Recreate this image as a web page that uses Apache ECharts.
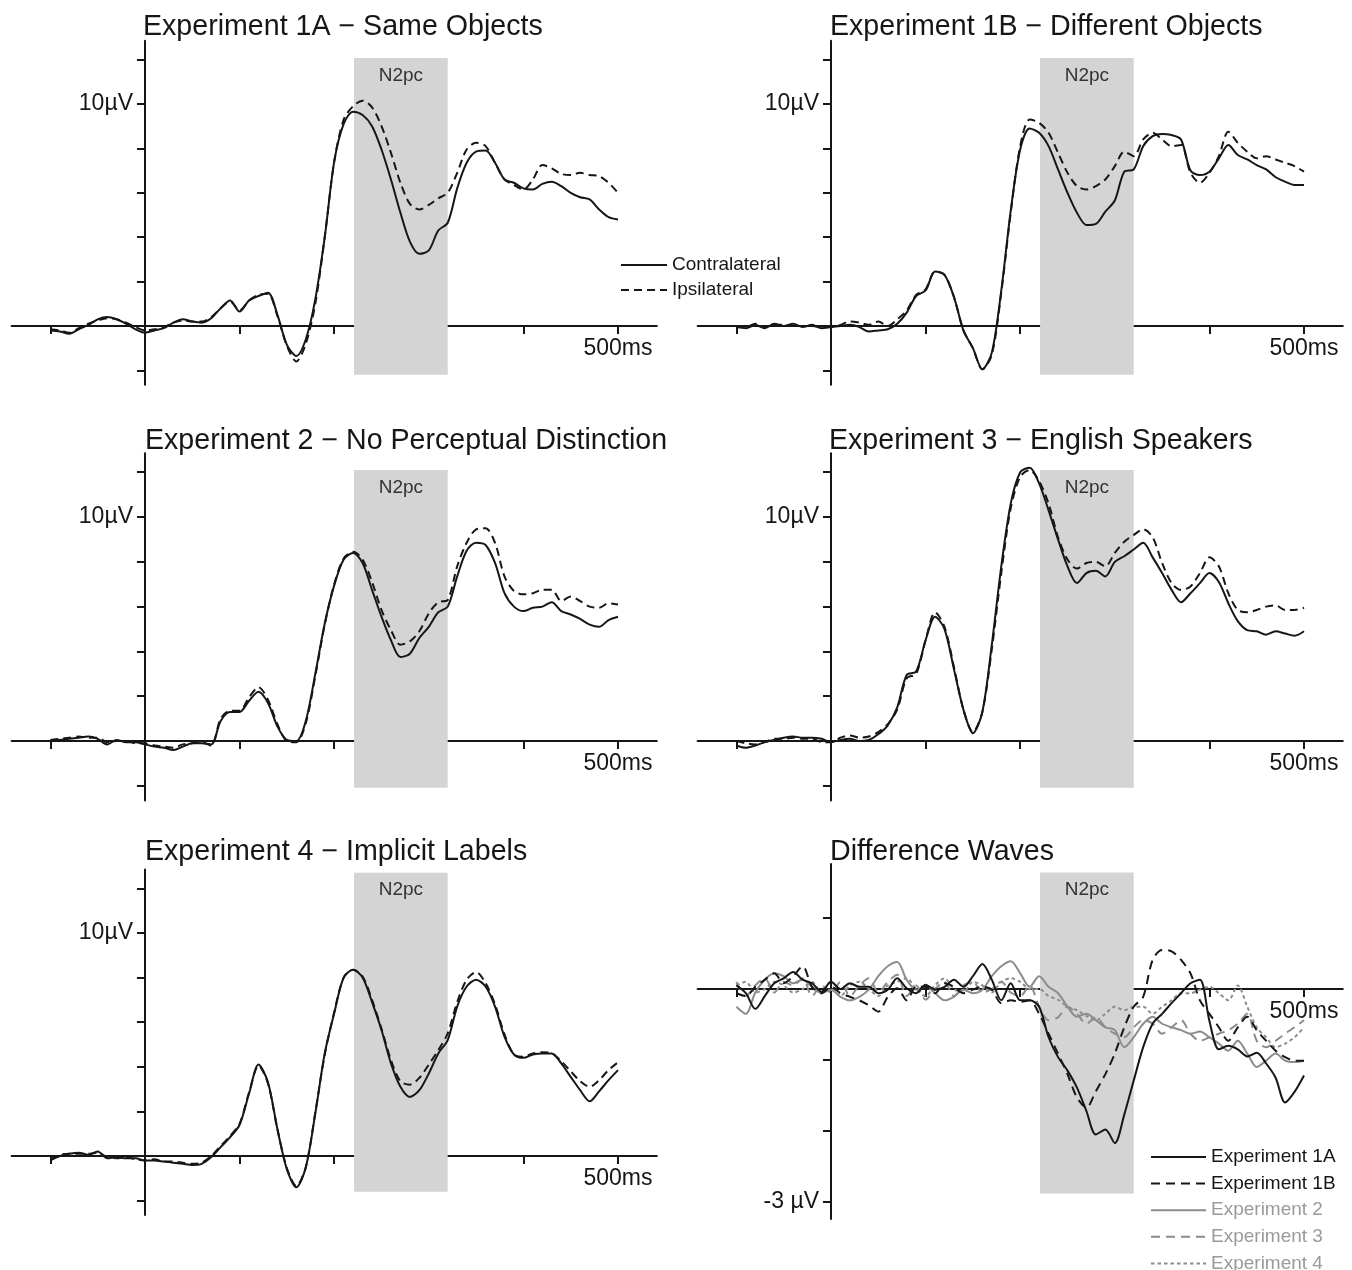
<!DOCTYPE html>
<html>
<head>
<meta charset="utf-8">
<script src="https://cdn.jsdelivr.net/npm/echarts@6/dist/echarts.min.js"></script>
<style>
html,body{margin:0;padding:0;background:#fff;}
#chart{width:1352px;height:1270px;}
</style>
</head>
<body>
<div id="chart"></div>
<script>
// ---------- DATA ----------
var times = [-100,-90,-80,-70,-60,-50,-40,-30,-20,-10,0,10,20,30,40,50,60,70,80,90,100,110,120,130,140,150,160,170,180,190,200,210,220,230,240,250,260,270,280,290,300,310,320,330,340,350,360,370,380,390,400,410,420,430,440,450,460,470,480,490,500];

var exp1aContra = [-0.2,-0.25,-0.35,-0.15,0.05,0.3,0.4,0.3,0.1,-0.15,-0.3,-0.2,-0.1,0.15,0.3,0.2,0.15,0.35,0.8,1.15,0.65,1.15,1.35,1.5,0.5,-0.85,-1.35,-0.6,1.2,4.0,7.4,9.1,9.65,9.5,9.0,7.95,6.6,5.1,3.8,3.25,3.4,4.3,4.65,6.2,7.35,7.85,7.9,7.35,6.6,6.45,6.2,6.15,6.4,6.5,6.3,6.0,5.8,5.7,5.25,4.9,4.8];
var exp1aIpsi = [-0.15,-0.2,-0.3,-0.1,0.1,0.25,0.35,0.3,0.15,-0.05,-0.2,-0.15,-0.05,0.15,0.25,0.2,0.2,0.4,0.8,1.1,0.7,1.15,1.4,1.45,0.45,-0.9,-1.6,-0.8,1.0,4.0,7.4,9.3,9.9,10.15,9.85,9.0,7.8,6.45,5.5,5.25,5.45,5.75,6.0,6.9,7.95,8.25,8.1,7.35,6.6,6.35,6.15,6.6,7.25,7.1,6.85,6.8,6.9,6.8,6.75,6.45,6.0];

var exp1bContra = [-0.05,-0.1,0.05,-0.1,0.1,0.0,0.1,-0.05,0.05,-0.1,-0.05,0.0,0.05,-0.05,-0.25,-0.2,-0.15,0.1,0.6,1.35,1.6,2.45,2.3,1.3,-0.2,-1.0,-1.95,-1.2,1.6,5.2,7.95,8.9,8.7,8.1,7.05,6.0,5.1,4.55,4.6,5.15,5.65,6.95,7.05,8.1,8.55,8.65,8.6,8.4,7.0,6.8,6.95,7.55,8.15,7.7,7.5,7.25,7.05,6.7,6.5,6.35,6.35];
var exp1bIpsi = [0.0,-0.05,0.1,-0.05,0.05,0.05,0.0,0.0,0.0,-0.05,-0.05,0.05,0.2,0.15,0.05,0.2,0.0,0.3,0.7,1.4,1.65,2.45,2.3,1.3,-0.2,-1.0,-1.95,-1.3,1.5,5.1,8.1,9.3,9.15,8.7,7.8,6.9,6.3,6.15,6.3,6.6,7.2,7.85,7.65,8.4,8.7,8.4,8.1,8.15,6.9,6.45,6.9,7.65,8.75,8.25,7.85,7.55,7.65,7.5,7.35,7.2,6.95];

var exp2Contra = [0.0,0.05,0.1,0.15,0.2,0.1,-0.15,0.05,-0.05,-0.05,-0.15,-0.25,-0.3,-0.4,-0.25,-0.1,-0.1,-0.15,0.9,1.3,1.3,1.8,2.2,1.7,0.65,0.05,0.0,0.9,3.0,5.25,6.95,8.1,8.4,7.95,6.75,5.55,4.5,3.75,3.9,4.6,5.1,5.75,6.0,7.35,8.5,8.85,8.75,7.95,6.6,6.0,5.8,5.95,6.0,6.2,5.8,5.65,5.45,5.2,5.1,5.4,5.55];
var exp2Ipsi = [0.05,0.1,0.15,0.2,0.15,0.15,-0.05,0.0,0.0,-0.1,-0.1,-0.2,-0.25,-0.3,-0.15,-0.1,-0.05,-0.2,1.0,1.35,1.35,1.95,2.4,1.85,0.75,0.0,-0.05,0.8,2.9,5.2,7.0,8.15,8.45,8.1,7.1,5.85,4.95,4.3,4.45,4.9,5.7,6.2,6.3,7.8,8.85,9.45,9.5,8.85,7.35,6.7,6.55,6.6,6.75,6.75,6.25,6.45,6.25,6.0,5.95,6.15,6.1];

var exp3Contra = [-0.2,-0.3,-0.2,-0.05,0.05,0.15,0.2,0.15,0.15,0.1,-0.05,0.05,0.1,0.0,0.05,0.3,0.7,1.5,2.95,3.1,4.5,5.55,5.0,3.2,1.4,0.35,1.3,4.3,7.8,10.6,12.0,12.2,11.5,10.3,9.0,7.8,7.05,7.5,7.6,7.35,8.0,8.25,8.55,8.85,8.2,7.5,6.75,6.2,6.6,7.05,7.5,7.1,6.15,5.35,4.95,4.9,4.75,4.9,4.8,4.7,4.9];
var exp3Ipsi = [0.0,-0.1,-0.15,-0.05,0.1,0.1,0.15,0.1,0.1,-0.05,-0.05,0.15,0.25,0.15,0.2,0.4,0.75,1.4,2.8,3.0,4.5,5.75,5.1,3.3,1.4,0.4,1.3,4.1,7.5,10.4,11.8,12.1,11.6,10.6,9.1,8.1,7.7,7.95,8.0,7.8,8.4,8.9,9.2,9.45,9.1,7.95,7.05,6.75,6.9,7.5,8.2,7.8,6.6,5.85,5.75,5.85,6.0,6.05,5.85,5.85,5.95];

var exp4Contra = [-0.2,0.0,0.1,0.15,0.05,0.2,-0.1,-0.05,-0.1,-0.1,-0.2,-0.2,-0.25,-0.3,-0.35,-0.4,-0.35,-0.05,0.4,0.85,1.4,2.8,4.1,3.3,1.2,-0.6,-1.4,-0.5,1.9,4.6,6.4,8.0,8.35,8.0,6.9,5.65,4.15,3.1,2.65,2.95,3.7,4.6,5.2,6.7,7.6,7.9,7.6,6.7,5.35,4.55,4.4,4.55,4.6,4.6,4.15,3.55,2.95,2.45,2.9,3.4,3.85];
var exp4Ipsi = [-0.15,0.05,0.1,0.1,0.1,0.15,-0.05,-0.1,-0.05,-0.15,-0.2,-0.15,-0.25,-0.25,-0.3,-0.35,-0.3,0.0,0.45,0.9,1.45,2.85,4.05,3.25,1.2,-0.55,-1.35,-0.5,1.95,4.55,6.45,8.0,8.35,8.05,7.0,5.7,4.3,3.35,3.2,3.5,4.1,4.75,5.5,6.9,7.9,8.25,7.75,6.8,5.45,4.55,4.45,4.6,4.65,4.6,4.25,3.8,3.35,3.1,3.4,3.85,4.2];

var diff1A = [0.05,-0.06,-0.28,-0.1,0.08,0.15,0.24,0.13,0.08,-0.04,0.1,0.0,0.08,0.03,0.03,-0.06,-0.01,0.15,0.01,-0.06,0.06,-0.01,0.03,0.13,0.03,0.18,0.35,0.13,-0.16,0.08,-0.16,-0.16,-0.25,-0.68,-0.96,-1.15,-1.39,-1.72,-2.05,-1.98,-2.17,-1.77,-1.29,-0.82,-0.49,-0.35,-0.2,-0.06,0.08,0.13,-0.45,-0.85,-0.8,-0.85,-0.95,-0.9,-1.05,-1.25,-1.6,-1.45,-1.22];
var diff1B = [-0.06,-0.1,0.03,0.13,0.22,0.08,0.18,0.32,0.03,-0.06,0.03,-0.06,-0.11,-0.16,-0.23,-0.32,-0.11,0.01,-0.16,0.03,0.03,-0.06,0.08,0.03,-0.06,-0.01,0.03,-0.01,-0.2,-0.16,-0.18,-0.16,-0.35,-0.63,-0.91,-1.2,-1.53,-1.67,-1.44,-1.2,-0.91,-0.54,-0.25,-0.11,0.41,0.55,0.53,0.41,0.22,-0.16,-0.35,-0.54,-0.73,-0.54,-0.39,-0.58,-0.73,-0.87,-0.96,-1.01,-1.01];
var diff2 = [-0.25,-0.35,-0.05,0.13,0.22,0.18,0.08,0.13,0.03,-0.06,-0.01,-0.11,-0.16,-0.11,-0.01,0.18,0.32,0.38,0.13,-0.01,0.03,-0.06,-0.16,-0.11,-0.01,-0.06,-0.01,0.18,0.32,0.39,0.22,0.03,0.18,0.03,-0.06,-0.25,-0.39,-0.35,-0.44,-0.54,-0.58,-0.82,-0.68,-0.49,-0.39,-0.49,-0.54,-0.58,-0.63,-0.6,-0.68,-0.77,-0.87,-0.73,-0.91,-1.1,-1.01,-0.91,-1.01,-1.03,-1.01];
var diff3 = [0.1,-0.1,0.05,0.15,-0.05,0.1,0.05,0.15,-0.1,0.05,-0.05,0.1,-0.1,0.05,0.15,-0.05,0.1,0.2,-0.1,0.05,-0.15,0.0,0.1,-0.1,0.05,0.1,-0.05,0.0,0.1,-0.05,-0.1,0.05,-0.25,-0.44,-0.4,-0.25,-0.35,-0.49,-0.4,-0.54,-0.63,-0.68,-0.54,-0.44,-0.49,-0.63,-0.54,-0.44,-0.63,-0.73,-0.68,-0.63,-0.58,-0.49,-0.35,-0.73,-0.82,-0.73,-0.63,-0.54,-0.44];
var diff4 = [0.05,0.1,-0.05,0.0,0.1,0.05,-0.05,0.0,0.1,-0.05,0.0,-0.1,0.05,0.1,0.0,-0.1,0.05,0.1,0.15,0.0,-0.1,0.05,0.15,0.0,-0.05,0.1,0.05,-0.05,0.1,0.15,0.1,0.0,0.0,-0.1,-0.15,-0.25,-0.3,-0.38,-0.44,-0.35,-0.25,-0.3,-0.25,-0.25,-0.35,-0.25,-0.16,-0.06,-0.06,-0.01,0.03,-0.06,-0.16,0.05,-0.25,-0.54,-0.68,-0.82,-0.77,-0.68,-0.54];

var panelTitles = ['Experiment 1A \u2212 Same Objects','Experiment 1B \u2212 Different Objects','Experiment 2 \u2212 No Perceptual Distinction','Experiment 3 \u2212 English Speakers','Experiment 4 \u2212 Implicit Labels','Difference Waves'];
var xTicks = [-100,0,100,200,300,400,500];
var erpYTicks = [-2,0,2,4,6,8,10,12];
var diffYTicks = [-3,-2,-1,0,1];
var n2pcWindow = [221, 320];
var condNames = ['Contralateral','Ipsilateral'];
var diffNames = ['Experiment 1A','Experiment 1B','Experiment 2','Experiment 3','Experiment 4'];

// ---------- CHART ----------
var FONT = "'Liberation Sans', Arial, Helvetica, sans-serif";
var INK = '#161616';
var GRAYLINE = '#8c8c8c';
var XMIN = -141, XMAX = 541;

function pairs(vals){ var out=[]; for(var i=0;i<times.length;i++){ out.push([times[i], vals[i]]); } return out; }

// panel layout (px)
var colL = {left: 11.6, width: 645.2};
var colR = {left: 697.6, width: 645.2};
var panels = [
  {col: colL, top: 40.7, height: 344.1, ymin: -2.65, ymax: 12.85, box: [-2.2, 12.07], titleLeft: 143, titleTop: 13},
  {col: colR, top: 40.7, height: 344.1, ymin: -2.65, ymax: 12.85, box: [-2.2, 12.07], titleLeft: 830, titleTop: 13},
  {col: colL, top: 453.2, height: 347.2, ymin: -2.65, ymax: 12.85, box: [-2.09, 12.1], titleLeft: 145, titleTop: 427},
  {col: colR, top: 453.2, height: 347.2, ymin: -2.65, ymax: 12.85, box: [-2.09, 12.1], titleLeft: 829, titleTop: 427},
  {col: colL, top: 869.4, height: 345.7, ymin: -2.65, ymax: 12.85, box: [-1.6, 12.7], titleLeft: 145, titleTop: 838},
  {col: colR, top: 864, height: 355, ymin: -3.24, ymax: 1.76, box: [-2.88, 1.64], titleLeft: 830, titleTop: 838}
];

var grids=[], xAxes=[], yAxes=[], titles=[], series=[];
panels.forEach(function(p, i){
  var w = p.col.width;
  // place the axes through the origin: y axis at t=0, x axis at 0 µV
  var yOff = -((0 - XMIN) / (XMAX - XMIN)) * w;
  var xOff = -((0 - p.ymin) / (p.ymax - p.ymin)) * p.height;
  grids.push({left: p.col.left, width: w, top: p.top, height: p.height, containLabel: false, outerBoundsMode: 'none'});
  titles.push({text: panelTitles[i], left: p.titleLeft, top: p.titleTop, padding: 0,
    textStyle: {fontFamily: FONT, fontSize: 28.6, fontWeight: 'normal', color: INK}});
  xAxes.push({type: 'value', gridIndex: i, min: XMIN, max: XMAX, position: 'bottom', offset: xOff,
    axisLine: {onZero: false, lineStyle: {color: INK, width: 2}},
    axisTick: {show: true, customValues: xTicks, length: 8, inside: false, lineStyle: {color: INK, width: 2}},
    axisLabel: {show: true, customValues: [500], formatter: function(){ return '500ms'; }, margin: 11,
      fontFamily: FONT, fontSize: 23, color: INK},
    splitLine: {show: false}});
  var isDiff = (i === 5);
  yAxes.push({type: 'value', gridIndex: i, min: p.ymin, max: p.ymax, position: 'left', offset: yOff,
    axisLine: {onZero: false, lineStyle: {color: INK, width: 2}},
    axisTick: {show: true, customValues: isDiff ? diffYTicks : erpYTicks, length: 8, inside: false, lineStyle: {color: INK, width: 2}},
    axisLabel: {show: true, customValues: isDiff ? [-3] : [10],
      formatter: isDiff ? function(){ return '-3 \u00b5V'; } : function(){ return '10\u00b5V'; },
      margin: 12, fontFamily: FONT, fontSize: 23, color: INK},
    splitLine: {show: false}});
  // N2pc window
  series.push({type: 'line', name: 'N2pc window ' + i, xAxisIndex: i, yAxisIndex: i, data: [], z: 1, silent: true,
    markArea: {silent: true, itemStyle: {color: '#d4d4d4'},
      label: {show: true, position: 'insideTop', distance: 8, formatter: 'N2pc', fontFamily: FONT, fontSize: 19, color: '#333'},
      data: [[{xAxis: n2pcWindow[0], yAxis: p.box[0]}, {xAxis: n2pcWindow[1], yAxis: p.box[1]}]]}});
});

var erpPairs = [[exp1aContra, exp1aIpsi],[exp1bContra, exp1bIpsi],[exp2Contra, exp2Ipsi],[exp3Contra, exp3Ipsi],[exp4Contra, exp4Ipsi]];
erpPairs.forEach(function(pr, i){
  series.push({type: 'line', name: condNames[0], xAxisIndex: i, yAxisIndex: i, data: pairs(pr[0]), symbol: 'none', smooth: 0.3, z: 3,
    lineStyle: {color: INK, width: 2, type: 'solid'}, itemStyle: {color: INK}});
  series.push({type: 'line', name: condNames[1], xAxisIndex: i, yAxisIndex: i, data: pairs(pr[1]), symbol: 'none', smooth: 0.3, z: 3,
    lineStyle: {color: INK, width: 2, type: [8, 5]}, itemStyle: {color: INK}});
});

var diffData = [diff1A, diff1B, diff2, diff3, diff4];
var diffStyles = [
  {color: INK, type: 'solid'}, {color: INK, type: [9, 6]},
  {color: GRAYLINE, type: 'solid'}, {color: GRAYLINE, type: [9, 6]}, {color: GRAYLINE, type: [3.5, 3]}
];
diffData.forEach(function(d, k){
  series.push({type: 'line', name: diffNames[k], xAxisIndex: 5, yAxisIndex: 5, data: pairs(d), symbol: 'none', smooth: 0.3, z: 3 + (k < 2 ? 1 : 0),
    lineStyle: {color: diffStyles[k].color, width: 2, type: diffStyles[k].type}, itemStyle: {color: diffStyles[k].color}});
});

var hiddenSymbol = {color: 'rgba(0,0,0,0)', borderColor: 'rgba(0,0,0,0)', borderWidth: 0, opacity: 0};
var option = {
  backgroundColor: '#ffffff',
  animation: false,
  title: titles,
  grid: grids,
  xAxis: xAxes,
  yAxis: yAxes,
  legend: [
    {orient: 'vertical', left: 620, top: 255.5, width: 200, height: 60, itemWidth: 46, itemHeight: 12, itemGap: 6, padding: 0,
     selectedMode: false, itemStyle: hiddenSymbol,
     textStyle: {fontFamily: FONT, fontSize: 19, lineHeight: 16, color: INK},
     data: condNames},
    {orient: 'vertical', left: 1150, top: 1147.5, width: 200, height: 140, itemWidth: 55, itemHeight: 12, itemGap: 7.6, padding: 0,
     selectedMode: false, itemStyle: hiddenSymbol,
     textStyle: {fontFamily: FONT, fontSize: 19, lineHeight: 16, color: INK},
     data: [
       {name: diffNames[0], textStyle: {color: INK}},
       {name: diffNames[1], textStyle: {color: INK}},
       {name: diffNames[2], textStyle: {color: '#9a9a9a'}},
       {name: diffNames[3], textStyle: {color: '#9a9a9a'}},
       {name: diffNames[4], textStyle: {color: '#9a9a9a'}}
     ]}
  ],
  series: series
};

var chart = echarts.init(document.getElementById('chart'), null, {renderer: 'canvas'});
chart.setOption(option);
</script>
</body>
</html>
